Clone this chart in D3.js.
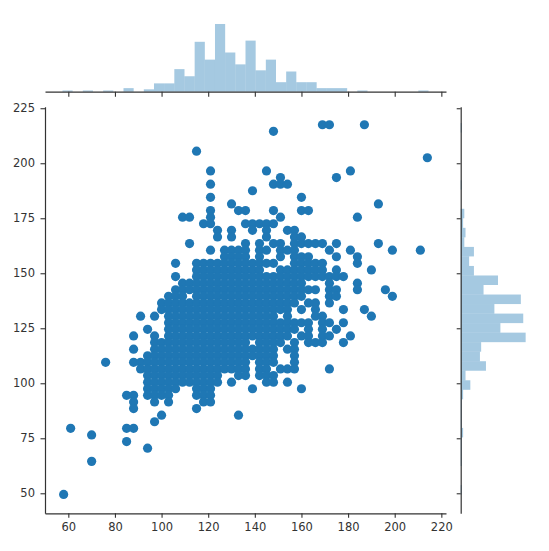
<!DOCTYPE html>
<html>
<head>
<meta charset="utf-8">
<script src="https://cdn.jsdelivr.net/npm/d3@7/dist/d3.min.js"></script>
<style>
  body { margin: 0; background: #fff; }
</style>
</head>
<body>
<div id="chart"></div>
<script>
// scatter values, one row per y level (values sit on a 3-unit grid)
const rowY = [217.5, 214.5, 205.5, 202.5, 196.5, 193.5, 190.5, 187.5, 184.5, 181.5,
              178.5, 175.5, 172.5, 169.5, 166.5, 163.5, 160.5, 157.5, 154.5, 151.5,
              148.5, 145.5, 142.5, 139.5, 136.5, 133.5, 130.5, 127.5, 124.5, 121.5,
              118.5, 115.5, 112.5, 109.5, 106.5, 103.5, 100.5, 97.5, 94.5, 91.5,
              88.5, 85.5, 82.5, 79.5, 76.5, 73.5, 70.5, 64.5, 49.5];
const rowX = [
  [169, 172, 187],
  [148],
  [115],
  [214],
  [121, 145, 181],
  [151, 175],
  [121, 148, 151, 154],
  [139],
  [121, 160],
  [130, 193],
  [121, 133, 136, 148, 160, 163],
  [109, 112, 121, 151, 184],
  [118, 121, 136, 139, 142, 145, 148],
  [124, 130, 139, 145, 154, 157],
  [124, 130, 145, 157, 160],
  [112, 136, 142, 148, 151, 157, 160, 163, 166, 169, 175, 193],
  [121, 127, 130, 133, 136, 142, 145, 151, 154, 157, 172, 181, 199, 211],
  [127, 130, 133, 136, 142, 151, 157, 160, 163, 175, 184],
  [106, 115, 118, 121, 124, 127, 130, 133, 136, 139, 142, 145, 148, 157, 160, 163, 166, 169, 184],
  [115, 118, 121, 124, 127, 130, 133, 136, 139, 142, 151, 154, 157, 160, 163, 166, 169, 175, 190],
  [106, 115, 118, 121, 124, 127, 130, 133, 136, 139, 142, 145, 148, 151, 154, 157, 160, 163, 166, 169, 172, 175, 178],
  [109, 112, 115, 118, 121, 124, 127, 130, 133, 136, 139, 142, 145, 148, 151, 154, 157, 160, 172, 184],
  [106, 109, 112, 115, 118, 121, 124, 127, 130, 133, 136, 139, 142, 145, 148, 151, 154, 157, 160, 163, 166, 172, 175, 184, 196],
  [103, 106, 109, 115, 118, 121, 124, 127, 130, 133, 136, 139, 142, 145, 148, 151, 154, 157, 160, 172, 175, 199],
  [100, 103, 106, 109, 112, 115, 118, 121, 124, 127, 130, 133, 136, 139, 142, 145, 148, 151, 154, 157, 163, 166, 172],
  [100, 103, 106, 109, 112, 115, 118, 121, 124, 127, 130, 133, 136, 139, 142, 145, 148, 151, 154, 160, 166, 178, 187],
  [91, 97, 103, 106, 109, 112, 115, 118, 121, 124, 127, 130, 133, 136, 139, 142, 145, 148, 154, 166, 169, 190],
  [103, 106, 109, 112, 115, 118, 121, 124, 127, 130, 133, 136, 139, 142, 145, 148, 151, 154, 157, 160, 163, 169, 172, 178],
  [94, 103, 106, 109, 112, 115, 118, 121, 124, 127, 130, 133, 136, 139, 142, 145, 148, 151, 154, 157, 163, 169, 175],
  [88, 97, 103, 106, 109, 112, 115, 118, 121, 124, 127, 130, 133, 136, 139, 142, 145, 148, 151, 154, 160, 163, 169, 172, 181],
  [97, 100, 103, 106, 109, 112, 115, 118, 121, 124, 127, 130, 133, 136, 142, 145, 148, 151, 157, 163, 166, 169, 178],
  [88, 97, 100, 103, 106, 109, 112, 115, 118, 121, 124, 127, 130, 133, 136, 139, 142, 145, 148, 154, 157],
  [94, 97, 100, 103, 106, 109, 112, 115, 118, 121, 124, 127, 130, 133, 136, 139, 142, 145, 148, 157],
  [76, 88, 91, 94, 97, 100, 103, 106, 109, 112, 115, 118, 121, 124, 127, 130, 133, 136, 142, 145, 148, 157],
  [91, 94, 97, 100, 103, 106, 109, 112, 115, 118, 121, 124, 127, 130, 133, 136, 142, 145, 151, 154, 157, 172],
  [94, 97, 100, 103, 106, 109, 112, 115, 118, 121, 124, 133, 136, 142, 145, 148],
  [94, 97, 100, 103, 106, 109, 112, 115, 118, 121, 124, 130, 145, 148, 154],
  [94, 97, 100, 103, 106, 115, 118, 121, 139, 160],
  [85, 88, 94, 97, 100, 103, 115, 118, 121],
  [88, 97, 103, 118, 121],
  [88, 115],
  [100, 133],
  [97],
  [61, 85, 88],
  [70],
  [85],
  [94],
  [70],
  [58]
];

// marginal histograms (counts per bin)
const topBinStart = 57.5;
const topBinWidth = 4.361;
const topCounts = [1, 0, 1, 0, 1, 0, 3, 0, 2, 7, 7, 19, 13, 42, 27, 57, 33, 23,
                   43, 18, 27, 8, 17, 8, 8, 3, 3, 3, 0, 1, 0, 0, 0, 0, 0, 1];
const rightBinStart = 49.4;
const rightBinWidth = 4.33;
const rightCounts = [1, 0, 0, 1, 1, 1, 2, 1, 1, 1, 2, 8, 4, 21, 16, 17, 54, 33, 52, 28,
                     50, 19, 31, 11, 7, 11, 3, 4, 2, 3, 0, 0, 1, 0, 0, 0, 0, 0, 1];

const xTicks = [60, 80, 100, 120, 140, 160, 180, 200, 220];
const yTicks = [50, 75, 100, 125, 150, 175, 200, 225];

const width = 549, height = 551;
const blue = "#1f77b4";
const ink = "#333";

const points = rowY.flatMap((y, k) => rowX[k].map(x => ({ x, y })));

const x = d3.scaleLinear().domain([50, 222]).range([45, 446]);
const y = d3.scaleLinear().domain([40.9, 225.7]).range([513.3, 106.7]);

// top marginal: count -> height
const topBase = 91.7;
const yTop = d3.scaleLinear().domain([0, d3.max(topCounts) * 1.05]).range([topBase, 20.6]);
// right marginal: count -> width
const rightBase = 460.7;
const xRight = d3.scaleLinear().domain([0, d3.max(rightCounts) * 1.05]).range([rightBase, 528.9]);

const svg = d3.select("#chart")
    .append("svg")
    .attr("width", width)
    .attr("height", height)
    .attr("font-family", "'DejaVu Sans', sans-serif");

// top histogram
svg.append("g")
    .attr("fill", blue)
    .attr("fill-opacity", 0.4)
    .selectAll("rect")
    .data(topCounts)
    .join("rect")
    .attr("x", (d, i) => x(topBinStart + i * topBinWidth))
    .attr("width", (d, i) => x(topBinStart + (i + 1) * topBinWidth) - x(topBinStart + i * topBinWidth))
    .attr("y", d => yTop(d))
    .attr("height", d => topBase - yTop(d));

// right histogram
svg.append("g")
    .attr("fill", blue)
    .attr("fill-opacity", 0.4)
    .selectAll("rect")
    .data(rightCounts)
    .join("rect")
    .attr("x", rightBase)
    .attr("y", (d, i) => y(rightBinStart + (i + 1) * rightBinWidth))
    .attr("height", (d, i) => y(rightBinStart + i * rightBinWidth) - y(rightBinStart + (i + 1) * rightBinWidth))
    .attr("width", d => xRight(d) - rightBase);

// scatter
svg.append("g")
    .attr("fill", blue)
    .selectAll("circle")
    .data(points)
    .join("circle")
    .attr("cx", d => x(d.x))
    .attr("cy", d => y(d.y))
    .attr("r", 4.6);

function styleAxis(g, showText) {
    g.selectAll(".domain").attr("stroke", ink).attr("stroke-width", 1.2);
    g.selectAll(".tick line").attr("stroke", ink).attr("stroke-width", 1.1);
    g.selectAll(".tick text")
        .attr("fill", ink)
        .attr("font-size", "11.5px")
        .style("display", showText ? null : "none");
}

// main axes
svg.append("g")
    .attr("transform", "translate(0,513.3)")
    .call(d3.axisBottom(x).tickValues(xTicks).tickSize(4.5).tickSizeOuter(0).tickPadding(5))
    .call(g => styleAxis(g, true))
    .attr("font-family", null);

svg.append("g")
    .attr("transform", "translate(45,0)")
    .call(d3.axisLeft(y).tickValues(yTicks).tickSize(4.5).tickSizeOuter(0).tickPadding(5.5))
    .call(g => styleAxis(g, true))
    .attr("font-family", null);

// marginal spines (ticks only)
svg.append("g")
    .attr("transform", `translate(0,${topBase})`)
    .call(d3.axisBottom(x).tickValues(xTicks).tickSize(5).tickSizeOuter(0))
    .call(g => styleAxis(g, false));

svg.append("g")
    .attr("transform", `translate(${rightBase},0)`)
    .call(d3.axisLeft(y).tickValues(yTicks).tickSize(4).tickSizeOuter(0))
    .call(g => styleAxis(g, false));
</script>
</body>
</html>
